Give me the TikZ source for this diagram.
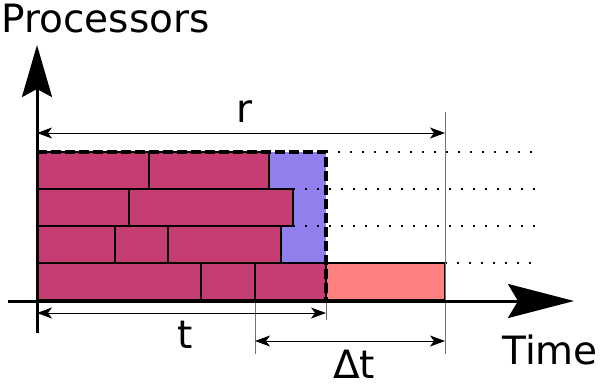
\documentclass[tikz,border=0pt]{standalone}
\usepackage{fontspec}
\setmainfont{DejaVu Sans}
\usetikzlibrary{arrows.meta}

\definecolor{jobred}{RGB}{198,61,115}
\definecolor{idleblue}{RGB}{144,128,238}
\definecolor{newjob}{RGB}{255,128,128}

\begin{document}
\begin{tikzpicture}[x=0.5pt,y=0.5pt,yscale=-1,xscale=1,
  job/.style={draw=black,line width=0.75pt,fill=jobred},
  axis/.style={line width=1.5pt},
  dim/.style={line width=0.5pt,{Stealth[length=7.5pt,width=5.5pt,inset=2pt]}-{Stealth[length=7.5pt,width=5.5pt,inset=2pt]}},
  guide/.style={draw=black!55,line width=0.5pt},
  rowdots/.style={dash pattern=on 1.2pt off 4.8pt,line width=0.6pt},
  lbl/.style={inner sep=0pt,font=\fontsize{19.5}{23}\selectfont}]
\useasboundingbox (0,0) rectangle (604,385);

% corner points
\coordinate (o) at (37,300);
\coordinate (ybot) at (37,333);
\coordinate (ytop) at (37,45);
\coordinate (xleft) at (8,301);
\coordinate (xright) at (574,301);
\coordinate (tend) at (326,300);
\coordinate (dstart) at (255,300);
\coordinate (rend) at (445,263);

%Shape: idle area
\fill[idleblue] (37,152) rectangle (326,263);
%Shape: new job
\draw[fill=newjob,line width=0.75pt] (tend |- rend) rectangle (445,300);

%Row 1
\draw[job] (37,152) rectangle (149,189);
\draw[job] (149,152) rectangle (269,189);
%Row 2
\draw[job] (37,189) rectangle (129,226);
\draw[job] (129,189) rectangle (293,226);
%Row 3
\draw[job] (37,226) rectangle (115,263);
\draw[job] (115,226) rectangle (168,263);
\draw[job] (168,226) rectangle (281,263);
%Row 4
\draw[job] (37,263) rectangle (201,300);
\draw[job] (201,263) rectangle (255,300);
\draw[job] (255,263) rectangle (326,300);

%Dotted lines
\draw[rowdots] (326,152) -- (538,152);
\draw[rowdots] (293,189) -- (538,189);
\draw[rowdots] (281,226) -- (538,226);
\draw[rowdots] (445,263) -- (532,263);

%Dashed border
\draw[line width=1.6pt,dash pattern=on 5pt off 2pt] (37,152) -- (326,152) -- (tend);

%Guide lines
\draw[guide] (445,112) -- (445,354);
\draw[guide] (tend) -- (326,320);
\draw[guide] (dstart) -- (255,354);

%Axes
\draw[axis,-{Stealth[length=26pt,width=15pt,inset=4pt]}] (ybot) -- (ytop);
\draw[axis,-{Stealth[length=33pt,width=17pt,inset=5pt]}] (xleft) -- (xright);

%Dimension arrows
\draw[dim] (37,133) -- (445,133);
\draw[dim] (37,313) -- (326,313);
\draw[dim] (255,341) -- (445,341);

% Text Node
\node[lbl,anchor=base west] (procs) at (1,33) {Processors};
\node[lbl,anchor=base] (rlbl) at (245,122) {r};
\node[lbl,anchor=base] (tlbl) at (185,348) {t};
\node[lbl,anchor=base] (dtlbl) at (354,378) {Δt};
\node[lbl,anchor=base west] (timelbl) at (502,364) {Time};

\end{tikzpicture}
\end{document}
